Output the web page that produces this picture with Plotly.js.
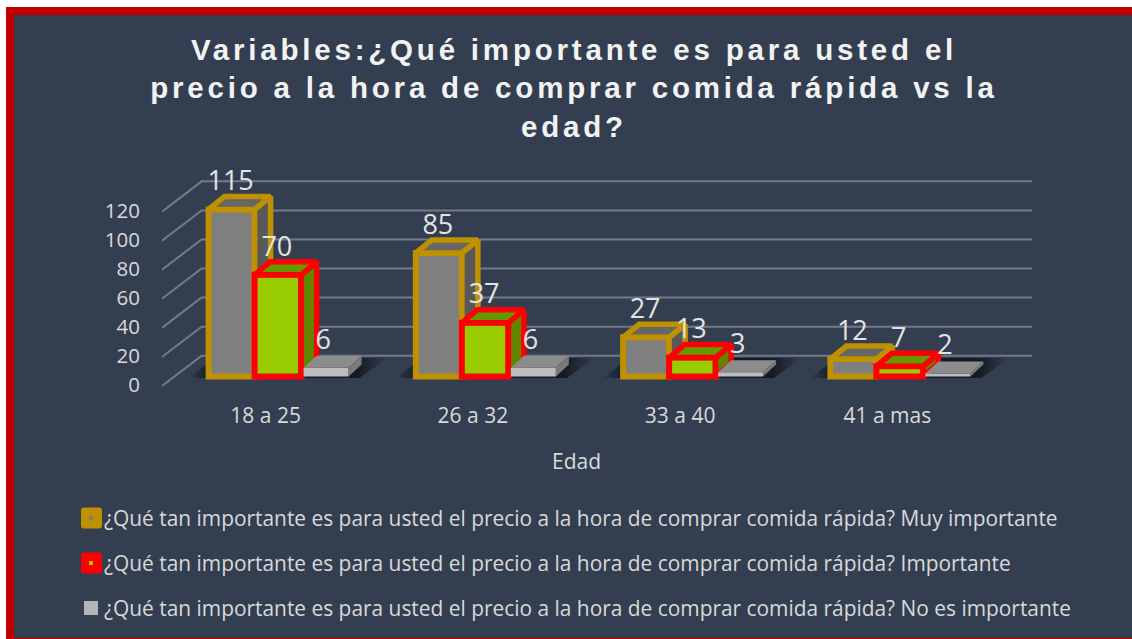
<!DOCTYPE html>
<html>
<head>
<meta charset="utf-8">
<script src="https://cdn.plot.ly/plotly-3.0.1.min.js"></script>
<style>
html,body{margin:0;padding:0;background:#fff}
#chart{width:1132px;height:639px}
.gtitle{letter-spacing:3.8px}
</style>
</head>
<body>
<div id="chart"></div>
<script>
// ---- data ----
const categories = ["18 a 25", "26 a 32", "33 a 40", "41 a mas"];
const muyImportante = [115, 85, 27, 12];
const importante = [70, 37, 13, 7];
const noImportante = [6, 6, 3, 2];
const yTicks = [0, 20, 40, 60, 80, 100, 120];
const titleText = "Variables:¿Qué importante es para usted el<br>precio a la hora de comprar comida rápida vs la<br>edad?";
const axisTitle = "Edad";
const prefix = "¿Qué tan importante es para usted el precio a la hora de comprar comida rápida? ";
const legendNames = [prefix + "Muy importante", prefix + "Importante", prefix + "No es importante"];

// ---- geometry (pixels -> axis units) ----
const W = 1132, H = 639;
const M = {l: 162, r: 100, t: 160, b: 253, pad: 0};
const plotW = W - M.l - M.r, plotH = H - M.t - M.b;
const xPx = 207.25, yPx = 1.453;
const xRange = [-0.5, -0.5 + plotW / xPx], yRange = [0, plotH / yPx];
const ux = p => p / xPx, uy = p => p / yPx;
const px = x => (x - M.l) / plotW, py = y => 1 - (y - M.t) / plotH;
const base = uy(9.5);
const wall = {dx: ux(39.6), dy: uy(30.3), right: xRange[1]};

const series = [
  {name: legendNames[0], v: muyImportante, off: -57, w: 46, fill: "#7f7f7f", top: "#666666", side: "#595959", line: "#BF9000", lw: 6, dx: 16, dy: 13, lab: -1},
  {name: legendNames[1], v: importante, off: -11, w: 46.5, fill: "#99CC00", top: "#669900", side: "#628500", line: "#FF0000", lw: 6, dx: 15.5, dy: 13, lab: -1},
  {name: legendNames[2], v: noImportante, off: 38, w: 45, fill: "#BDBDBD", top: "#8C8C8C", side: "#7A7A7A", line: null, lw: 0, dx: 13, dy: 12, lab: -3}
];
const labelRise = uy(26);
const idx = categories.map((_, i) => i);
const traces = [];

// back wall gridlines and diagonals
const gx = [], gy = [];
yTicks.forEach(t => {
  gx.push(-0.5, -0.5 + wall.dx, wall.right, null);
  gy.push(t, t + wall.dy, t + wall.dy, null);
});
traces.push({type: "scatter", mode: "lines", x: gx, y: gy, xaxis: "x", yaxis: "y", hoverinfo: "skip", showlegend: false,
  line: {color: "#757a84", width: 2}});

// floor shadows
idx.forEach(i => {
  const o = ux(-78), e = ux(94), k = ux(28);
  const b = uy(8), t = uy(28);
  traces.push({type: "scatter", mode: "none", x: [i + o, i + e, i + e + k, i + o + k, i + o], y: [b, b, t, t, b], fill: "toself",
    xaxis: "x", yaxis: "y", hoverinfo: "skip", showlegend: false,
    fillgradient: {type: "horizontal", colorscale: [[0, "rgba(15,20,28,0)"], [0.1, "rgba(15,20,28,0.75)"], [0.85, "rgba(15,20,28,0.85)"], [1, "rgba(15,20,28,0)"]]}});
});

// bars with their side and top faces, each series on its own overlay so it stacks in order
series.forEach((s, n) => {
  const ax = n + 2, xa = "x" + ax, ya = "y" + ax;
  const dx = ux(s.dx), dy = uy(s.dy), wd = ux(s.w), of = ux(s.off);
  const sx = [], sy = [], tx = [], ty = [];
  s.v.forEach((v, i) => {
    const l = i + of, r = l + wd, t = base + v;
    sx.push(r, r + dx, r + dx, r, r, null); sy.push(t, t + dy, base + dy, base, t, null);
    tx.push(l, l + dx, r + dx, r, l, null); ty.push(t, t + dy, t + dy, t, t, null);
  });
  const faceLine = s.line ? {color: s.line, width: s.lw - 0.5} : {width: 0};
  [[sx, sy, s.side], [tx, ty, s.top]].forEach(f => traces.push({type: "scatter", mode: s.line ? "lines" : "none", x: f[0], y: f[1], fill: "toself", fillcolor: f[2],
    line: faceLine, xaxis: xa, yaxis: ya, hoverinfo: "skip", showlegend: false}));
  traces.push({type: "bar", x: idx, y: s.v, base: base, offset: of, width: wd, name: s.name, xaxis: xa, yaxis: ya, showlegend: false, hoverinfo: "skip",
    marker: {color: s.fill, line: {color: s.line || s.fill, width: s.lw}}});
});

// data labels on top of everything
series.forEach(s => {
  traces.push({type: "scatter", mode: "text", x: idx.map(i => i + ux(s.off + s.w / 2 + s.lab)), y: s.v.map(v => base + v + labelRise),
    text: s.v.map(String), textposition: "middle center", textfont: {family: "Open Sans", size: 27, color: "#E3E3E3"},
    xaxis: "x4", yaxis: "y4", cliponaxis: false, hoverinfo: "skip", showlegend: false});
});

// carries the axis title under the front plane of the floor
traces.push({type: "scatter", mode: "none", x: [null], y: [null], xaxis: "x5", yaxis: "y", hoverinfo: "skip", showlegend: false});

// frame, legend swatches
const rounded = (x0, y0, x1, y1, r) => {
  const X = a => px(a), Y = a => py(a);
  return `M${X(x0 + r)},${Y(y0)} L${X(x1 - r)},${Y(y0)} Q${X(x1)},${Y(y0)} ${X(x1)},${Y(y0 + r)} L${X(x1)},${Y(y1 - r)} Q${X(x1)},${Y(y1)} ${X(x1 - r)},${Y(y1)} L${X(x0 + r)},${Y(y1)} Q${X(x0)},${Y(y1)} ${X(x0)},${Y(y1 - r)} L${X(x0)},${Y(y0 + r)} Q${X(x0)},${Y(y0)} ${X(x0 + r)},${Y(y0)} Z`;
};
const rect = (x0, y0, x1, y1, c) => ({type: "rect", xref: "paper", yref: "paper", x0: px(x0), x1: px(x1), y0: py(y0), y1: py(y1), fillcolor: c, line: {width: 0}, layer: "below"});
const path = (d, c) => ({type: "path", xref: "paper", yref: "paper", path: d, fillcolor: c, line: {width: 0}, layer: "above"});
const shapes = [
  rect(6, 7, W + 2, H, "#C00000"),
  rect(14, 15, W + 2, 638, "#333F50"),
  path(rounded(81, 507.5, 102, 528.5, 3), "#BF9000"), Object.assign(rect(89, 516, 93, 520, "#7f7f7f"), {layer: "above"}),
  path(rounded(81, 552.5, 102, 573.5, 3), "#FF0000"), Object.assign(rect(89, 561, 93, 565, "#99CC00"), {layer: "above"}),
  Object.assign(rect(84, 601, 98, 615, "#B4B4B4"), {layer: "above"})
];
const annotations = legendNames.map((t, i) => ({xref: "paper", yref: "paper", x: px(102), y: py([518, 563, 608][i]), xanchor: "left", yanchor: "middle", showarrow: false, text: t,
  font: {family: "Open Sans", size: 20.9, color: "#D9D9D9"}}));

const hidden = {visible: false, fixedrange: true};
const layout = {
  width: W, height: H, margin: M, paper_bgcolor: "#FFFFFF", plot_bgcolor: "rgba(0,0,0,0)", showlegend: false, barmode: "overlay",
  title: {text: titleText, x: 574 / W, xref: "container", xanchor: "center", y: 1 - 60 / H, yref: "container", yanchor: "top",
    font: {family: "Liberation Sans", size: 29.5, weight: 700, color: "#F2F2F2"}},
  xaxis: {range: xRange, tickvals: idx, ticktext: categories, showgrid: false, zeroline: false, showline: false, ticks: "", ticklabelstandoff: 15, fixedrange: true,
    tickfont: {family: "Open Sans", size: 21, color: "#D9D9D9"}},
  xaxis5: {domain: [0, 829 / plotW], anchor: "y", range: [0, 1], showticklabels: false, showgrid: false, zeroline: false, showline: false, ticks: "", fixedrange: true,
    title: {text: axisTitle, standoff: 68, font: {family: "Open Sans", size: 21, color: "#D9D9D9"}}},
  yaxis: {range: yRange, tickvals: yTicks, showgrid: false, zeroline: false, showline: false, ticks: "", ticklabelstandoff: 21, ticklabelshift: -1, fixedrange: true,
    tickfont: {family: "Open Sans", size: 20.5, color: "#D9D9D9"}},
  shapes, annotations
};
[2, 3, 4].forEach(k => {
  layout["xaxis" + k] = Object.assign({range: xRange, overlaying: "x"}, hidden);
  layout["yaxis" + k] = Object.assign({range: yRange, overlaying: "y"}, hidden);
});
Plotly.newPlot("chart", traces, layout, {displayModeBar: false, responsive: false});
</script>
</body>
</html>
